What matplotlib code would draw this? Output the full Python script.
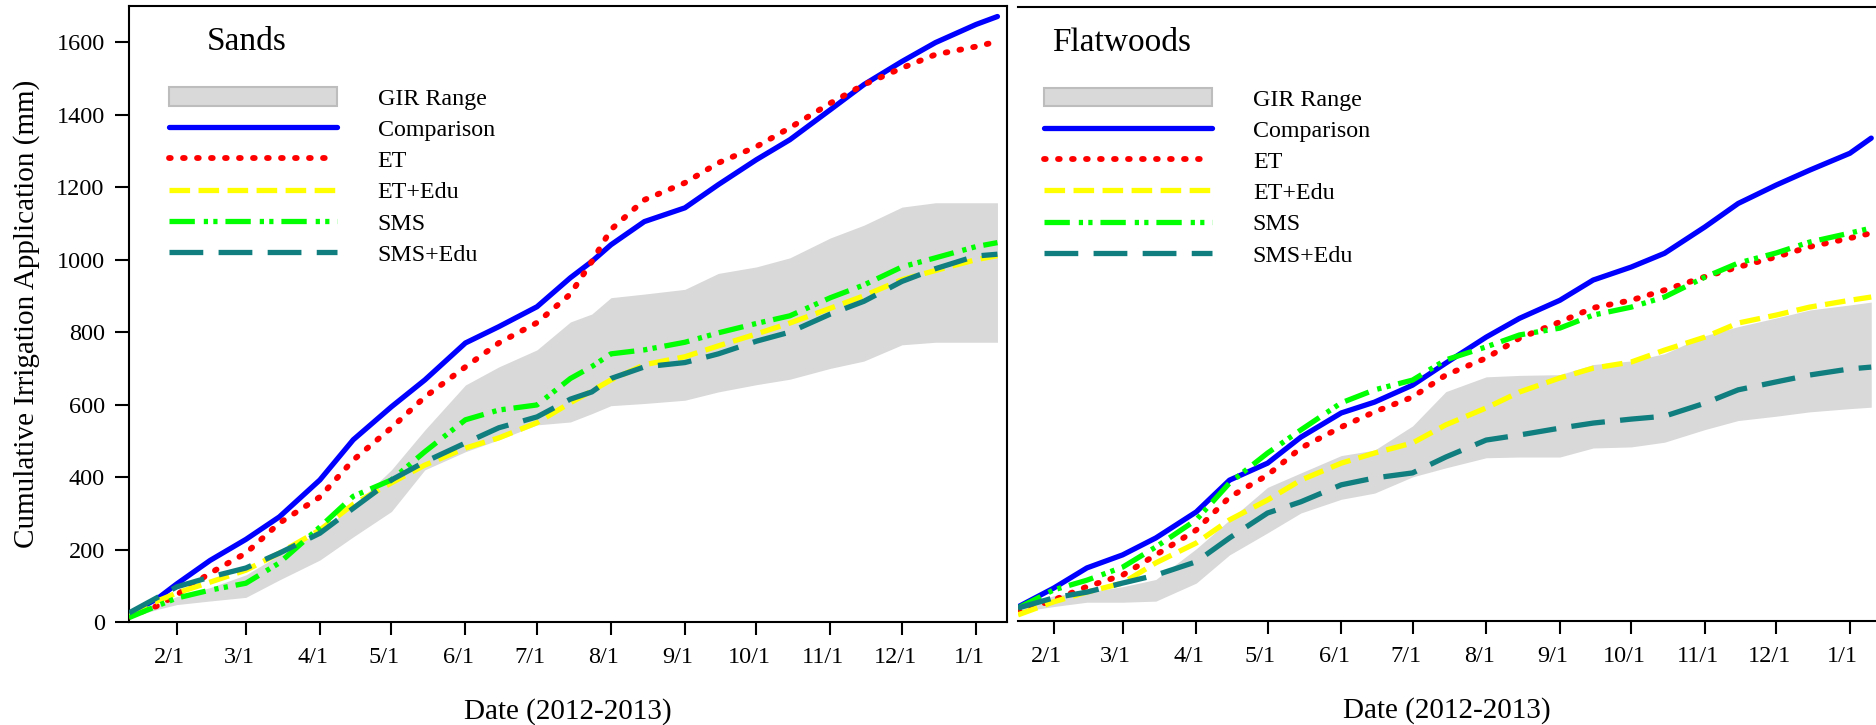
import matplotlib
matplotlib.use('Agg')
import matplotlib.pyplot as plt
import matplotlib.transforms as mtransforms
from matplotlib.patches import Patch
import pandas as pd

plt.rcParams['font.family'] = ['Liberation Serif', 'DejaVu Serif']

# ---- data ----
tick_dates = ['2012-02-01', '2012-03-01', '2012-04-01', '2012-05-01', '2012-06-01', '2012-07-01',
              '2012-08-01', '2012-09-01', '2012-10-01', '2012-11-01', '2012-12-01', '2013-01-01']
tick_labels = ['2/1', '3/1', '4/1', '5/1', '6/1', '7/1', '8/1', '9/1', '10/1', '11/1', '12/1', '1/1']
y_ticks = [0, 200, 400, 600, 800, 1000, 1200, 1400, 1600]

series_names = ['Comparison', 'ET', 'ET+Edu', 'SMS', 'SMS+Edu']

# Sands
sands_dates = ['2012-01-12', '2012-01-24', '2012-02-01', '2012-02-15', '2012-03-01', '2012-03-15',
               '2012-04-01', '2012-04-15', '2012-05-01', '2012-05-15', '2012-06-01', '2012-06-15',
               '2012-07-01', '2012-07-15', '2012-07-24', '2012-08-01', '2012-08-15', '2012-09-01',
               '2012-09-15', '2012-10-01', '2012-10-15', '2012-11-01', '2012-11-15', '2012-12-01',
               '2012-12-15', '2013-01-01', '2013-01-10']
sands_comp = [22, 65, 105, 170, 228, 290, 392, 503, 594, 668, 770, 815, 870, 950, 995, 1041, 1105,
              1143, 1207, 1276, 1331, 1414, 1483, 1547, 1599, 1649, 1671]
sands_et = [15, 45, 75, 135, 190, 273, 345, 447, 536, 621, 704, 770, 826, 905, 995, 1083, 1165,
            1212, 1267, 1312, 1364, 1432, 1483, 1529, 1566, 1588, 1602]
sands_et_edu = [18, 58, 80, 110, 143, 190, 254, 325, 384, 433, 480, 508, 550, 605, 638, 668, 710,
                732, 762, 795, 825, 866, 900, 945, 970, 1000, 1011]
sands_sms = [12, 45, 66, 88, 107, 163, 262, 347, 392, 470, 558, 585, 599, 672, 705, 740, 751,
             772, 798, 824, 845, 895, 930, 980, 1005, 1036, 1047]
sands_sms_edu = [25, 68, 97, 124, 149, 190, 245, 314, 392, 442, 494, 536, 566, 615, 635, 672, 704,
                 716, 740, 775, 800, 850, 885, 940, 975, 1010, 1015]
sands_gir_lo = [12, 35, 48, 58, 68, 116, 171, 235, 305, 420, 470, 503, 544, 552, 575, 597, 603,
                612, 635, 655, 670, 700, 720, 765, 772, 772, 772]
sands_gir_hi = [25, 50, 70, 95, 130, 185, 250, 320, 420, 530, 654, 704, 751, 828, 850, 895, 905,
                918, 962, 980, 1005, 1060, 1095, 1145, 1157, 1157, 1157]

# Flatwoods
flat_dates = ['2012-01-17', '2012-02-01', '2012-02-15', '2012-03-01', '2012-03-15', '2012-04-01',
              '2012-04-15', '2012-05-01', '2012-05-15', '2012-06-01', '2012-06-15', '2012-07-01',
              '2012-07-15', '2012-08-01', '2012-08-15', '2012-09-01', '2012-09-15', '2012-10-01',
              '2012-10-15', '2012-11-01', '2012-11-15', '2012-12-01', '2012-12-15', '2013-01-01',
              '2013-01-10']
flat_comp = [39, 91, 147, 183, 230, 302, 390, 437, 509, 576, 606, 653, 714, 786, 838, 888, 944,
             980, 1018, 1091, 1156, 1207, 1248, 1295, 1337]
flat_et = [25, 58, 95, 127, 183, 252, 343, 404, 479, 537, 579, 620, 681, 728, 783, 828, 867,
           888, 916, 953, 980, 1008, 1036, 1060, 1074]
flat_et_edu = [17, 53, 80, 105, 161, 216, 280, 335, 390, 437, 465, 493, 543, 590, 634, 673, 700,
               717, 750, 786, 825, 847, 869, 888, 897]
flat_sms = [36, 86, 113, 149, 205, 280, 382, 465, 529, 604, 640, 667, 723, 759, 792, 811, 847,
            869, 897, 952, 991, 1019, 1049, 1074, 1088]
flat_sms_edu = [36, 64, 80, 105, 127, 164, 230, 299, 330, 377, 396, 410, 454, 501, 515, 534, 548,
                559, 567, 603, 640, 662, 681, 698, 703]
flat_gir_lo = [25, 40, 52, 52, 55, 105, 183, 244, 299, 337, 354, 399, 424, 452, 454, 454, 479,
               482, 495, 530, 555, 567, 579, 588, 592]
flat_gir_hi = [35, 70, 80, 95, 115, 200, 280, 370, 410, 458, 473, 540, 635, 676, 680, 682, 710,
               720, 740, 790, 815, 839, 861, 875, 883]

# line styles
styles = {
    'Comparison': dict(color='#0000ff', linestyle='-', lw=3.8, solid_capstyle='round'),
    'ET': dict(color='#ff0000', linestyle=(0, (0.3, 2.1)), lw=4.2, dash_capstyle='round'),
    'ET+Edu': dict(color='#ffff00', linestyle=(0, (3.9, 1.6)), lw=3.8),
    'SMS': dict(color='#00ff00', linestyle=(0, (4.8, 1.7, 0.8, 1.0, 0.8, 1.5)), lw=3.8),
    'SMS+Edu': dict(color='#107e7e', linestyle=(0, (6.4, 2.9)), lw=3.8),
}


def draw_panel(ax, dates, values, gir_lo, gir_hi, title, xlim, pos):
    d = pd.to_datetime(dates)
    ax.fill_between(d, gir_lo, gir_hi, color='#d9d9d9', linewidth=0, zorder=1)
    handles = [Patch(facecolor='#d9d9d9', edgecolor='#bdbdbd', linewidth=1.5)]
    for name, vals in zip(series_names, values):
        ln, = ax.plot(d, vals, zorder=3, **styles[name])
        handles.append(ln)
    ax.set_xlim(pd.to_datetime(xlim[0]), pd.to_datetime(xlim[1]))
    ax.set_ylim(0, 1700)
    ax.set_xticks(pd.to_datetime(tick_dates))
    ax.set_xticklabels(tick_labels)
    ax.tick_params(axis='x', direction='out', length=9, width=1.5, pad=9, labelsize=17.5)
    off = mtransforms.ScaledTranslation(-7 / 100, 0, ax.figure.dpi_scale_trans)
    for lab in ax.get_xticklabels():
        lab.set_transform(lab.get_transform() + off)
    ax.set_xlabel('Date (2012-2013)', fontsize=21, labelpad=22)
    for s in ax.spines.values():
        s.set_linewidth(1.5)
    ax.text(pos[0], pos[1], title, transform=ax.transAxes, fontsize=24, va='center')
    ax.legend(handles, ['GIR Range'] + series_names, loc='upper left',
              bbox_to_anchor=(pos[2], 0.868), frameon=False, fontsize=17.3,
              handlelength=7.0, handleheight=0.8, handletextpad=1.7,
              labelspacing=0.36, borderpad=0, borderaxespad=0)


fig = plt.figure(figsize=(18.76, 7.25), dpi=100)
ax1 = fig.add_axes([129 / 1876, 103 / 725, 878 / 1876, 616 / 725])
ax2 = fig.add_axes([1018 / 1876, 104 / 725, 858 / 1876, 614 / 725])

draw_panel(ax1, sands_dates,
           [sands_comp, sands_et, sands_et_edu, sands_sms, sands_sms_edu],
           sands_gir_lo, sands_gir_hi, 'Sands', ('2012-01-12', '2013-01-14'),
           (0.089, 0.942, 0.045))
draw_panel(ax2, flat_dates,
           [flat_comp, flat_et, flat_et_edu, flat_sms, flat_sms_edu],
           flat_gir_lo, flat_gir_hi, 'Flatwoods', ('2012-01-17', '2013-01-12'),
           (0.040, 0.941, 0.030))

ax1.set_yticks(y_ticks)
ax1.tick_params(axis='y', direction='out', length=10, width=1.5, pad=7.5, labelsize=17.5)
ax1.set_ylabel('Cumulative Irrigation Application (mm)', fontsize=21, labelpad=12)

ax2.set_yticks([])
ax2.spines['left'].set_visible(False)
ax2.spines['right'].set_visible(False)

fig.savefig('out.png', dpi=100)
